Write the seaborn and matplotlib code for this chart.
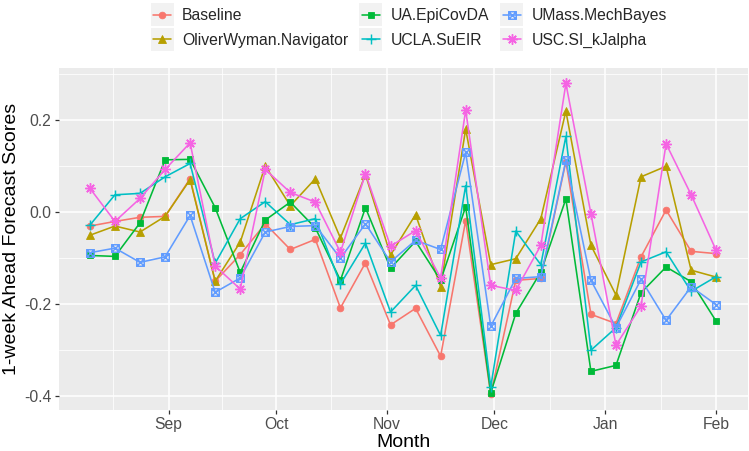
import numpy as np
import pandas as pd
import matplotlib
matplotlib.use("Agg")
import matplotlib.pyplot as plt
import matplotlib.dates as mdates
from matplotlib.path import Path
from matplotlib.patches import Rectangle
from matplotlib.transforms import IdentityTransform
import seaborn as sns

# ---------------- data ----------------
dates = pd.date_range("2020-08-10", periods=26, freq="7D")
models = ["Baseline", "OliverWyman.Navigator", "UA.EpiCovDA",
          "UCLA.SuEIR", "UMass.MechBayes", "USC.SI_kJalpha"]
colors = ["#F8766D", "#B79F00", "#00BA38", "#00BFC4", "#619CFF", "#F564E3"]

baseline = [-0.030, -0.020, -0.011, -0.009, 0.073, -0.150, -0.092, -0.025, -0.081,
            -0.059, -0.208, -0.110, -0.245, -0.209, -0.313, -0.018, -0.396, -0.148,
            -0.144, 0.110, -0.222, -0.242, -0.097, 0.005, -0.085, -0.090]
oliverwyman = [-0.050, -0.030, -0.043, -0.009, 0.071, -0.150, -0.065, 0.101, 0.014,
               0.073, -0.056, 0.082, -0.093, -0.005, -0.162, 0.181, -0.114, -0.101,
               -0.014, 0.220, -0.072, -0.180, 0.077, 0.100, -0.126, -0.141]
ua_epicovda = [-0.094, -0.096, -0.023, 0.114, 0.115, 0.010, -0.131, -0.017, 0.022,
               -0.034, -0.148, 0.010, -0.122, -0.063, -0.148, 0.012, -0.393, -0.220,
               -0.130, 0.029, -0.346, -0.333, -0.175, -0.119, -0.151, -0.237]
ucla_sueir = [-0.028, 0.038, 0.041, 0.077, 0.106, -0.111, -0.014, 0.023, -0.027,
              -0.014, -0.156, -0.067, -0.217, -0.159, -0.268, 0.058, -0.380, -0.041,
              -0.114, 0.165, -0.300, -0.251, -0.108, -0.086, -0.172, -0.140]
umass_mechbayes = [-0.088, -0.078, -0.109, -0.097, -0.007, -0.174, -0.143, -0.043, -0.031,
                   -0.029, -0.100, -0.025, -0.108, -0.061, -0.081, 0.130, -0.248, -0.144,
                   -0.140, 0.113, -0.148, -0.251, -0.146, -0.235, -0.162, -0.201]
usc_si_kjalpha = [0.052, -0.020, 0.030, 0.093, 0.151, -0.117, -0.167, 0.093, 0.043,
                  0.022, -0.087, 0.084, -0.074, -0.040, -0.143, 0.222, -0.159, -0.170,
                  -0.072, 0.280, -0.003, -0.289, -0.204, 0.149, 0.038, -0.083]

series = [baseline, oliverwyman, ua_epicovda, ucla_sueir, umass_mechbayes, usc_si_kjalpha]

month_starts = ["2020-08-01", "2020-09-01", "2020-10-01", "2020-11-01",
                "2020-12-01", "2021-01-01", "2021-02-01"]
month_labels = ["Sep", "Oct", "Nov", "Dec", "Jan", "Feb"]
y_ticks = [-0.4, -0.2, 0.0, 0.2]
y_tick_labels = ["-0.4", "-0.2", "0.0", "0.2"]
y_minor = [-0.3, -0.1, 0.1, 0.3]

df = pd.concat([pd.DataFrame({"date": dates, "score": s, "model": m})
                for m, s in zip(models, series)], ignore_index=True)

# ---------------- markers ----------------
sq_cross = Path(
    [(-1, -1), (1, -1), (1, 1), (-1, 1), (-1, -1),
     (-1, -1), (1, 1), (-1, 1), (1, -1)],
    [Path.MOVETO, Path.LINETO, Path.LINETO, Path.LINETO, Path.CLOSEPOLY,
     Path.MOVETO, Path.LINETO, Path.MOVETO, Path.LINETO])
marker_specs = [
    dict(marker="o", ms=4.8, mfc="fill"),
    dict(marker="^", ms=5.2, mfc="fill"),
    dict(marker="s", ms=4.6, mfc="fill"),
    dict(marker="+", ms=7.4, mfc="none"),
    dict(marker=sq_cross, ms=5.4, mfc="none"),
    dict(marker=(8, 2, 0), ms=7.4, mfc="none"),
]

# ---------------- style ----------------
sns.set_theme(style="darkgrid", rc={
    "axes.facecolor": "#EBEBEB",
    "grid.color": "white",
    "axes.edgecolor": "#EBEBEB",
})
plt.rcParams["font.family"] = ["Liberation Sans", "DejaVu Sans"]

fig = plt.figure(figsize=(7.49, 4.51), dpi=100)
ax = fig.add_axes([58.6 / 749, 1 - 410 / 451, (747.5 - 58.6) / 749, (410 - 68.3) / 451])

for m, c, spec in zip(models, colors, marker_specs):
    sub = df[df["model"] == m]
    mfc = c if spec["mfc"] == "fill" else "none"
    sns.lineplot(data=sub, x="date", y="score", ax=ax, color=c, label=m,
                 marker=spec["marker"], markersize=spec["ms"],
                 markeredgecolor=c, markerfacecolor=mfc,
                 markeredgewidth=1.05 if spec["mfc"] == "none" else 0.6,
                 linewidth=1.15, legend=False, zorder=3)

# axes limits (ggplot-like 5% expansion)
span = dates[-1] - dates[0]
ax.set_xlim(dates[0] - span * 0.05, dates[-1] + span * 0.05)
ax.set_ylim(-0.430, 0.313)

ms = pd.to_datetime(month_starts)
ax.set_xticks(ms[1:])
ax.set_xticklabels(month_labels)
mids = [ms[i] + (ms[i + 1] - ms[i]) / 2 for i in range(len(ms) - 1)]
ax.set_xticks(mids, minor=True)
ax.set_yticks(y_ticks)
ax.set_yticklabels(y_tick_labels)
ax.set_yticks(y_minor, minor=True)

ax.grid(which="major", color="white", linewidth=1.1)
ax.grid(which="minor", color="white", linewidth=0.55)
ax.set_axisbelow(True)
for sp in ax.spines.values():
    sp.set_visible(False)

ax.tick_params(axis="both", which="major", length=3.2, width=0.9, color="#333333",
               labelcolor="#4D4D4D", labelsize=11.3, pad=2, bottom=True, left=True)
ax.tick_params(axis="both", which="minor", length=0)

ax.set_xlabel("Month", fontsize=14, color="black", labelpad=1.2)
ax.set_ylabel("1-week Ahead Forecast Scores", fontsize=14, color="black", labelpad=3)

handles, labels = ax.get_legend_handles_labels()
leg = fig.legend(handles, labels, ncol=3, loc="center",
                 bbox_to_anchor=(410 / 749, 1 - 28 / 451), frameon=False,
                 fontsize=11.3, handlelength=1.15, handletextpad=0.7,
                 columnspacing=0.85, labelspacing=0.6)

fig.canvas.draw()
renderer = fig.canvas.get_renderer()
for h in leg.legend_handles:
    bb = h.get_window_extent(renderer)
    cx = (bb.x0 + bb.x1) / 2
    cy = (bb.y0 + bb.y1) / 2
    fig.patches.append(Rectangle((cx - 11.5, cy - 11.5), 23, 23,
                                 transform=IdentityTransform(), figure=fig,
                                 facecolor="#F2F2F2", edgecolor="none", zorder=1))

fig.savefig("out.png", dpi=100)
